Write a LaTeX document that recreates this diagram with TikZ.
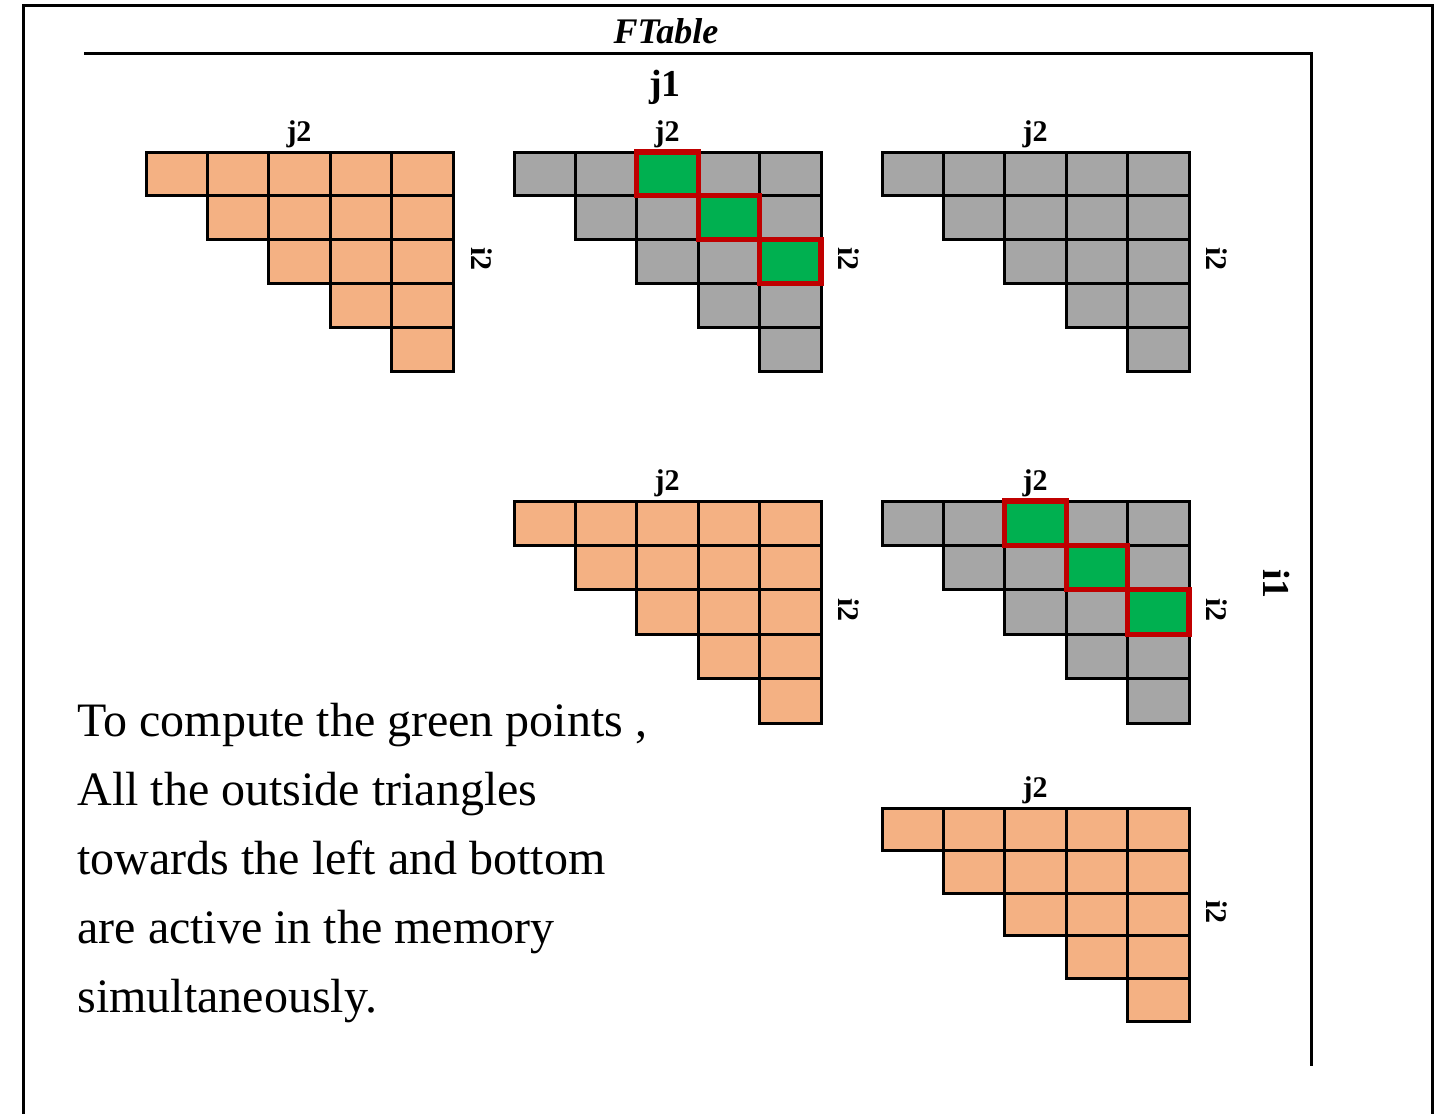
\documentclass[tikz,border=0pt]{standalone}
\usepackage{fontspec}
\setmainfont{Liberation Serif}
\definecolor{peach}{HTML}{F4B183}
\definecolor{cellgray}{HTML}{A6A6A6}
\definecolor{hlgreen}{HTML}{00B050}
\definecolor{hlred}{HTML}{C00000}

% upper-triangular 5x5 grid: left x, top y, row height, fill colour
\newcommand{\trigrid}[4]{%
  \foreach \r in {0,...,4}{%
    \foreach \c in {\r,...,4}{%
      \path[cell, fill=#4] ({#1+\c*61.4},{#2+\r*#3}) rectangle ++(61.4,#3);
    }}}
% the three highlighted diagonal cells: left x, top y, row height
\newcommand{\hotcells}[3]{%
  \foreach \r in {0,1,2}{%
    \path[hot] ({#1+(\r+2)*61.4},{#2+\r*#3}) rectangle ++(61.4,#3);
  }}

\begin{document}
\begin{tikzpicture}[x=0.5pt,y=-0.5pt,
  outerframe/.style={line width=1.7pt, black},
  innerframe/.style={line width=1.4pt, black},
  cell/.style={draw=black, line width=1.5pt},
  hot/.style={fill=hlgreen, draw=hlred, line width=2.6pt},
  axislbl/.style={font=\bfseries\fontsize{15}{18}\selectfont, inner sep=0pt},
  biglbl/.style={font=\bfseries\fontsize{19}{22}\selectfont, inner sep=0pt},
  note/.style={font=\fontsize{24}{30}\selectfont, inner sep=0pt, anchor=base west}]
\useasboundingbox (0,0) rectangle (1444,1113);
\clip (0,0) rectangle (1444,1113);

% outer frame, running past the bottom edge
\draw[outerframe] (23.5,1130) -- (23.5,5.7) -- (1432.5,5.7) -- (1432.5,1130);
% inner axis frame
\coordinate (ftl) at (84,53.3);
\coordinate (ftr) at (1311.5,53.3);
\coordinate (fbr) at (1311.5,1066);
\draw[innerframe] (ftl) -- (ftr) -- (fbr);

% title and outer axis labels
\node[font=\bfseries\itshape\fontsize{18}{20}\selectfont, inner sep=0pt, anchor=base]
  (title) at (666,44) {FTable};
\node[biglbl, anchor=base] (jone) at (665,97) {j1};
\node[biglbl, rotate=-90] (ione) at (1277,584) {i1};

% top row of triangles
\trigrid{146}{152}{43.8}{peach}
\trigrid{514}{152}{43.8}{cellgray}
\hotcells{514}{152}{43.8}
\trigrid{882}{152}{43.8}{cellgray}

% middle row
\trigrid{514}{501}{44.4}{peach}
\trigrid{882}{501}{44.4}{cellgray}
\hotcells{882}{501}{44.4}

% bottom row
\trigrid{882}{808}{42.6}{peach}

% inner axis labels
\node[axislbl, anchor=base] (ja) at (299,141.5) {j2};
\node[axislbl, anchor=base] (jb) at (667,141.5) {j2};
\node[axislbl, anchor=base] (jc) at (1035,141.5) {j2};
\node[axislbl, anchor=base] (jd) at (667,490.5) {j2};
\node[axislbl, anchor=base] (je) at (1035,490.5) {j2};
\node[axislbl, anchor=base] (jf) at (1035,797.5) {j2};

\node[axislbl, rotate=-90] (ia) at (481.5,259) {i2};
\node[axislbl, rotate=-90] (ib) at (849,259) {i2};
\node[axislbl, rotate=-90] (ic) at (1217,259) {i2};
\node[axislbl, rotate=-90] (id) at (849,610) {i2};
\node[axislbl, rotate=-90] (ie) at (1217,610) {i2};
\node[axislbl, rotate=-90] (if) at (1217,912) {i2};

% explanatory note
\node[note] (txta) at (77,736) {To compute the green points ,};
\node[note] (txtb) at (77,805) {All the outside triangles};
\node[note] (txtc) at (77,874) {towards the left and bottom};
\node[note] (txtd) at (77,943) {are active in the memory};
\node[note] (txte) at (77,1012) {simultaneously.};
\end{tikzpicture}
\end{document}
